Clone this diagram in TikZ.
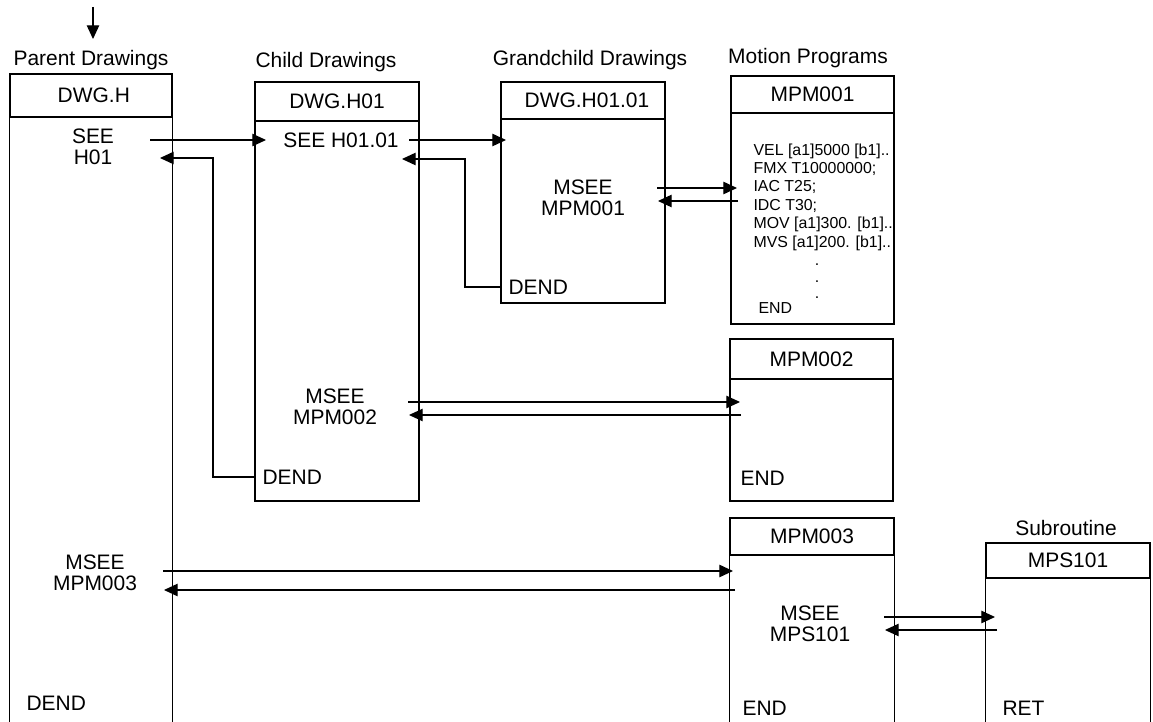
\documentclass[tikz,border=0pt]{standalone}
\usepackage{fontspec}
\setmainfont{Liberation Sans}
\usetikzlibrary{arrows.meta, fit}

\begin{document}
\begin{tikzpicture}[x=0.025cm, y=-0.025cm, >={Triangle[length=3.4mm, width=3.1mm]}, line width=0.8pt,
  big/.style={font=\fontsize{14.9}{14.9}\selectfont, align=center, inner sep=0pt},
  small/.style={font=\fontsize{11.3}{13.1}\selectfont, align=left, inner sep=0pt},
  frame/.style={inner sep=0pt}]
  \useasboundingbox (0,0) rectangle (1153,722);
  % ===== Parent Drawings =====
  \coordinate (start) at (93,7);
  \coordinate (entry) at (93,39);
  \draw[->] (start)--(entry);
  \node[big] (parentTitle) at (91,60) {Parent Drawings};
  \node[frame, draw, fit={(10,74) (172,117)}] (parentHead) {};
  \node[big] (dwgH) at ([xshift=0.07cm]parentHead.center) {DWG.H};
  \node[frame, fit={(10,117) (172,722)}] (parent) {};
  \draw (parent.north west)--(parent.south west) (parent.north east)--(parent.south east);
  \node[big] (seeH) at (93,147) {SEE\\H01};
  \node[big] (msee3P) at (95,573) {MSEE\\MPM003};
  \node[big, anchor=west] (dendP) at (26,703) {DEND};
  % ===== Child Drawings =====
  \node[big] (childTitle) at (326,62) {Child Drawings};
  \node[frame, draw, fit={(255,82) (419,121)}] (childHead) {};
  \node[big] (dwgH01) at (childHead.center) {DWG.H01};
  \node[frame, draw, fit={(255,121) (419,501)}] (child) {};
  \node[big] (seeHH) at (341,140) {SEE H01.01};
  \node[big] (msee2C) at (335,407) {MSEE\\MPM002};
  \node[big, anchor=west] (dendC) at (262,477) {DEND};
  % ===== Grandchild Drawings =====
  \node[big] (grandTitle) at (590,60) {Grandchild Drawings};
  \node[frame, draw, fit={(501,82) (665,119)}] (grandHead) {};
  \node[big] (dwgH0101) at ([xshift=0.1cm]grandHead.center) {DWG.H01.01};
  \node[frame, draw, fit={(501,119) (665,303)}] (grand) {};
  \node[big] (msee1G) at (583,198) {MSEE\\MPM001};
  \node[big, anchor=west] (dendG) at (508,287) {DEND};
  % ===== Motion Programs =====
  \node[big] (motionTitle) at (808,58) {Motion Programs};
  \node[frame, draw, fit={(731,76) (894,113)}] (mpm1Head) {};
  \node[big] (mpm1Name) at (mpm1Head.center) {MPM001};
  \node[frame, draw, fit={(731,113) (894,324)}] (mpm1) {};
  \node[small, anchor=north west] (prog1) at (753,143)
    {VEL [a1]5000 [b1]..\\FMX T10000000;\\IAC T25;\\IDC T30;\\MOV [a1]300. [b1]..\\MVS [a1]200. [b1]..};
  \node[small, anchor=base] (dot1) at (817,266) {.};
  \node[small, anchor=base] (dot2) at (817,282) {.};
  \node[small, anchor=base] (dot3) at (817,299) {.};
  \node[small, anchor=west] (end1) at (758,308) {END};
  \node[frame, draw, fit={(730,339) (893,379)}] (mpm2Head) {};
  \node[big] (mpm2Name) at (mpm2Head.center) {MPM002};
  \node[frame, draw, fit={(730,379) (893,501)}] (mpm2) {};
  \node[big, anchor=west] (end2) at (740,478) {END};
  \node[frame, draw, fit={(730,518) (894,555)}] (mpm3Head) {};
  \node[big] (mpm3Name) at (mpm3Head.center) {MPM003};
  \node[frame, fit={(730,555) (894,722)}] (mpm3) {};
  \draw (mpm3.north west)--(mpm3.south west) (mpm3.north east)--(mpm3.south east);
  \node[big] (mseeS) at (810,624) {MSEE\\MPS101};
  \node[big, anchor=west] (end3) at (742,708) {END};
  % ===== Subroutine =====
  \node[big] (subTitle) at (1066,528) {Subroutine};
  \node[frame, draw, fit={(986,543) (1150,578)}] (mps1Head) {};
  \node[big] (mps1Name) at (mps1Head.center) {MPS101};
  \node[frame, fit={(986,578) (1150,722)}] (mps1) {};
  \draw (mps1.north west)--(mps1.south west) (mps1.north east)--(mps1.south east);
  \node[big, anchor=west] (ret) at (1002,708) {RET};
  % ===== calls and returns =====
  \coordinate (seeOut) at (150,140);
  \coordinate (seeIn) at (266,140);
  \coordinate (ret1) at (213,158);
  \coordinate (ret1Tip) at (160,158);
  \draw[->] (seeOut)--(seeIn);
  \draw[->] (child.west |- dendC) -| (ret1)--(ret1Tip);
  \coordinate (seeHHOut) at (409,140);
  \coordinate (seeHHIn) at (506,140);
  \coordinate (ret2) at (465,159);
  \coordinate (ret2Tip) at (402,159);
  \draw[->] (seeHHOut)--(seeHHIn);
  \draw[->] (grand.west |- dendG) -| (ret2)--(ret2Tip);
  \coordinate (m1Out) at (657,188);
  \coordinate (m1In) at (737,188);
  \coordinate (m1Back) at (738,201);
  \coordinate (m1Tip) at (658,201);
  \draw[->] (m1Out)--(m1In);
  \draw[->] (m1Back)--(m1Tip);
  \coordinate (m2Out) at (408,402);
  \coordinate (m2In) at (740,402);
  \coordinate (m2Back) at (741,415);
  \coordinate (m2Tip) at (409,415);
  \draw[->] (m2Out)--(m2In);
  \draw[->] (m2Back)--(m2Tip);
  \coordinate (m3Out) at (163,571);
  \coordinate (m3In) at (733,571);
  \coordinate (m3Back) at (735,590);
  \coordinate (m3Tip) at (164,590);
  \draw[->] (m3Out)--(m3In);
  \draw[->] (m3Back)--(m3Tip);
  \coordinate (sOut) at (884,617);
  \coordinate (sIn) at (995,617);
  \coordinate (sBack) at (997,630);
  \coordinate (sTip) at (885,630);
  \draw[->] (sOut)--(sIn);
  \draw[->] (sBack)--(sTip);
\end{tikzpicture}
\end{document}
